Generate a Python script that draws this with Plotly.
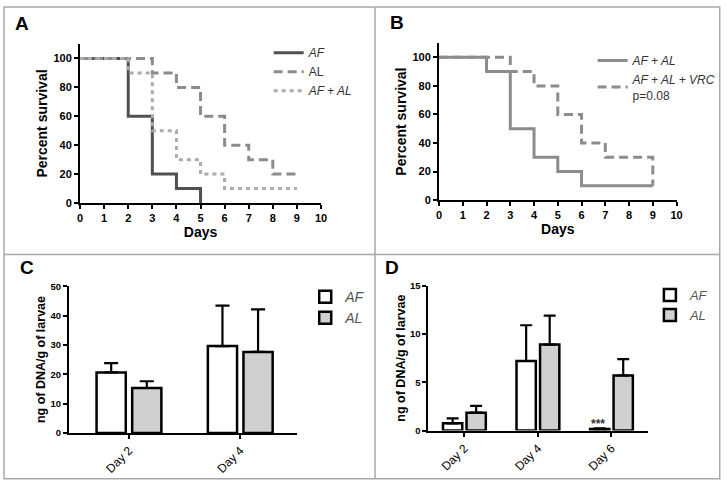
import plotly.graph_objects as go

W, H = 727, 486

# ---------------- data ----------------
# Panel A: Kaplan-Meier survival (step points: day, percent)
a_af_days = [0, 2, 3, 4, 5]
a_af_surv = [100, 60, 20, 10, 0]
a_al_days = [0, 3, 4, 5, 6, 7, 8, 9]
a_al_surv = [100, 90, 80, 60, 40, 30, 20, 20]
a_afal_days = [0, 2, 3, 4, 5, 6, 9]
a_afal_surv = [100, 90, 50, 30, 20, 10, 10]

# Panel B
b_afal_days = [0, 2, 3, 4, 5, 6, 9]
b_afal_surv = [100, 90, 50, 30, 20, 10, 10]
b_vrc_days = [0, 3, 4, 5, 6, 7, 9]
b_vrc_surv = [100, 90, 80, 60, 40, 30, 10]

# Panel C: ng DNA / g larvae
c_days = ["Day 2", "Day 4"]
c_af = [20.6, 29.6]
c_af_err = [3.2, 13.8]
c_al = [15.3, 27.6]
c_al_err = [2.3, 14.5]

# Panel D
d_days = ["Day 2", "Day 4", "Day 6"]
d_af = [0.75, 7.2, 0.15]
d_af_err = [0.5, 3.7, 0.08]
d_al = [1.85, 8.9, 5.7]
d_al_err = [0.7, 3.0, 1.7]

surv_ticks_x = list(range(0, 11))
surv_ticks_y = [0, 20, 40, 60, 80, 100]
c_ticks_y = [0, 10, 20, 30, 40, 50]
d_ticks_y = [0, 5, 10, 15]

# ---------------- helpers ----------------
def px_x(p):
    return p / W

def px_y(p):
    return 1 - p / H

TICKFONT = dict(family="Liberation Sans, Arial", size=11, color="black", weight="bold")
TICKFONT_S = dict(family="Liberation Sans, Arial", size=9.5, color="black", weight="bold")
TITLEFONT = dict(family="Liberation Sans, Arial", size=14, color="black", weight="bold")
CATFONT = dict(family="Liberation Sans, Arial", size=12, color="black")

def axis_common():
    return dict(showline=True, linecolor="black", linewidth=2, ticks="outside",
                ticklen=4, tickwidth=2, tickcolor="black", showgrid=False,
                zeroline=False, fixedrange=True)

fig = go.Figure()

# ---------------- Panel A ----------------
fig.add_trace(go.Scatter(x=a_af_days, y=a_af_surv, mode="lines", line_shape="hv",
                         line=dict(color="#505050", width=3), name="<i>AF</i>",
                         xaxis="x", yaxis="y", legend="legend"))
fig.add_trace(go.Scatter(x=a_al_days, y=a_al_surv, mode="lines", line_shape="hv",
                         line=dict(color="#8c8c8c", width=3, dash="9px,5px"), name="AL",
                         xaxis="x", yaxis="y", legend="legend"))
fig.add_trace(go.Scatter(x=a_afal_days, y=a_afal_surv, mode="lines", line_shape="hv",
                         line=dict(color="#ababab", width=3, dash="4px,4px"), name="<i>AF + AL</i>",
                         xaxis="x", yaxis="y", legend="legend"))

# ---------------- Panel B ----------------
fig.add_trace(go.Scatter(x=b_afal_days, y=b_afal_surv, mode="lines", line_shape="hv",
                         line=dict(color="#8c8c8c", width=3), name="<i>AF + AL</i>",
                         xaxis="x2", yaxis="y2", legend="legend2"))
fig.add_trace(go.Scatter(x=b_vrc_days, y=b_vrc_surv, mode="lines", line_shape="hv",
                         line=dict(color="#8c8c8c", width=3, dash="9px,5px"),
                         name="<i>AF + AL + VRC</i><br>p=0.08",
                         xaxis="x2", yaxis="y2", legend="legend2"))

# ---------------- Panel C ----------------
fig.add_trace(go.Bar(x=c_days, y=c_af, name="<i>AF</i>",
                     marker=dict(color="white", line=dict(color="black", width=2.5)),
                     error_y=dict(type="data", array=c_af_err, arrayminus=[0] * len(c_af),
                                  symmetric=False, color="black", thickness=2.2, width=7),
                     xaxis="x3", yaxis="y3", legend="legend3"))
fig.add_trace(go.Bar(x=c_days, y=c_al, name="<i>AL</i>",
                     marker=dict(color="#d0d0d0", line=dict(color="black", width=2.5)),
                     error_y=dict(type="data", array=c_al_err, arrayminus=[0] * len(c_al),
                                  symmetric=False, color="black", thickness=2.2, width=7),
                     xaxis="x3", yaxis="y3", legend="legend3"))

# ---------------- Panel D ----------------
fig.add_trace(go.Bar(x=d_days, y=d_af, name="<i>AF</i>",
                     marker=dict(color="white", line=dict(color="black", width=2.5)),
                     error_y=dict(type="data", array=d_af_err, arrayminus=[0] * len(d_af),
                                  symmetric=False, color="black", thickness=2.2, width=6),
                     xaxis="x4", yaxis="y4", legend="legend4"))
fig.add_trace(go.Bar(x=d_days, y=d_al, name="<i>AL</i>",
                     marker=dict(color="#d0d0d0", line=dict(color="black", width=2.5)),
                     error_y=dict(type="data", array=d_al_err, arrayminus=[0] * len(d_al),
                                  symmetric=False, color="black", thickness=2.2, width=6),
                     xaxis="x4", yaxis="y4", legend="legend4"))

# ---------------- layout ----------------
lay = dict(
    width=W, height=H, margin=dict(l=0, r=0, t=0, b=0),
    paper_bgcolor="white", plot_bgcolor="white",
    barmode="group", bargap=0.36, bargroupgap=0.18,
    font=dict(family="Liberation Sans, Arial", color="black"),
)

# Axes A
lay["xaxis"] = dict(axis_common(), domain=[px_x(78), px_x(322)], range=[0, 10],
                    tickvals=surv_ticks_x, tickfont=TICKFONT, anchor="y",
                    title=dict(text="Days", font=TITLEFONT, standoff=4))
lay["yaxis"] = dict(axis_common(), domain=[px_y(202), px_y(39)], range=[0, 110],
                    tickvals=surv_ticks_y, tickfont=TICKFONT, anchor="x",
                    title=dict(text="Percent survival", font=TITLEFONT, standoff=3))
# Axes B
lay["xaxis2"] = dict(axis_common(), domain=[px_x(441.5), px_x(682)], range=[0, 10],
                     tickvals=surv_ticks_x, tickfont=TICKFONT, anchor="y2",
                     title=dict(text="Days", font=TITLEFONT, standoff=4))
lay["yaxis2"] = dict(axis_common(), domain=[px_y(199), px_y(38)], range=[0, 110],
                     tickvals=surv_ticks_y, tickfont=TICKFONT, anchor="x2",
                     title=dict(text="Percent survival", font=TITLEFONT, standoff=3))
# Axes C
lay["xaxis3"] = dict(axis_common(), domain=[px_x(66.7), px_x(297.7)], range=[-0.54, 1.51],
                     tickangle=-45, anchor="y3", tickfont=CATFONT)
lay["yaxis3"] = dict(axis_common(), domain=[px_y(437.7), px_y(287.3)], range=[0, 50],
                     tickvals=c_ticks_y, tickfont=TICKFONT_S, anchor="x3",
                     title=dict(text="ng of DNA/g of larvae",
                                font=dict(family="Liberation Sans, Arial", size=12.5,
                                          color="black", weight="bold"), standoff=2))
# Axes D
lay["xaxis4"] = dict(axis_common(), domain=[px_x(430.7), px_x(653.3)], range=[-0.49, 2.5],
                     tickangle=-45, anchor="y4", tickfont=CATFONT)
lay["yaxis4"] = dict(axis_common(), domain=[px_y(435.3), px_y(286.7)], range=[0, 15],
                     tickvals=d_ticks_y, tickfont=TICKFONT_S, anchor="x4",
                     title=dict(text="ng of DNA/g of larvae",
                                font=dict(family="Liberation Sans, Arial", size=12.5,
                                          color="black", weight="bold"), standoff=2))

legend_base = dict(bgcolor="rgba(0,0,0,0)", borderwidth=0, xanchor="left", yanchor="top",
                   tracegroupgap=0)
lay["legend"] = dict(legend_base, x=px_x(269), y=px_y(33),
                     font=dict(family="Liberation Sans, Arial", size=12, color="#333333"))
lay["legend2"] = dict(legend_base, x=px_x(597), y=px_y(41),
                      font=dict(family="Liberation Sans, Arial", size=12, color="#333333"))
lay["legend3"] = dict(legend_base, x=px_x(306), y=px_y(282),
                      font=dict(family="Liberation Sans, Arial", size=14, color="#555555"))
lay["legend4"] = dict(legend_base, x=px_x(655), y=px_y(281),
                      font=dict(family="Liberation Sans, Arial", size=13, color="#555555"))

fig.update_layout(**lay)

# Panel letters
for letter, lx, ly in [("A", 19, 18), ("B", 399, 17), ("C", 24, 268), ("D", 394, 268)]:
    fig.add_annotation(text=f"<b>{letter}</b>", xref="paper", yref="paper",
                       x=px_x(lx), y=px_y(ly), xanchor="center", yanchor="middle",
                       showarrow=False,
                       font=dict(family="Liberation Sans, Arial", size=19, color="black"))

# significance stars above Day 6 AF bar
fig.add_annotation(text="<b>***</b>", xref="x4", yref="y4", x=d_days[2],
                   y=d_af[2] + d_af_err[2], xshift=-13, yshift=4, showarrow=False,
                   font=dict(family="Liberation Sans, Arial", size=12, color="#333333"))

# panel borders
border = dict(color="#a8a8a8", width=1.5)
fig.add_shape(type="rect", xref="paper", yref="paper", x0=px_x(1), x1=px_x(725.7),
              y0=px_y(484.7), y1=px_y(1), line=border)
fig.add_shape(type="line", xref="paper", yref="paper", x0=px_x(376.7), x1=px_x(376.7),
              y0=px_y(484.7), y1=px_y(1), line=border)
fig.add_shape(type="line", xref="paper", yref="paper", x0=px_x(1), x1=px_x(725.7),
              y0=px_y(254.7), y1=px_y(254.7), line=border)

fig.write_html("out.html", config={"displayModeBar": False},
               post_script="document.body.style.margin='0px';document.body.style.overflow='hidden';")
